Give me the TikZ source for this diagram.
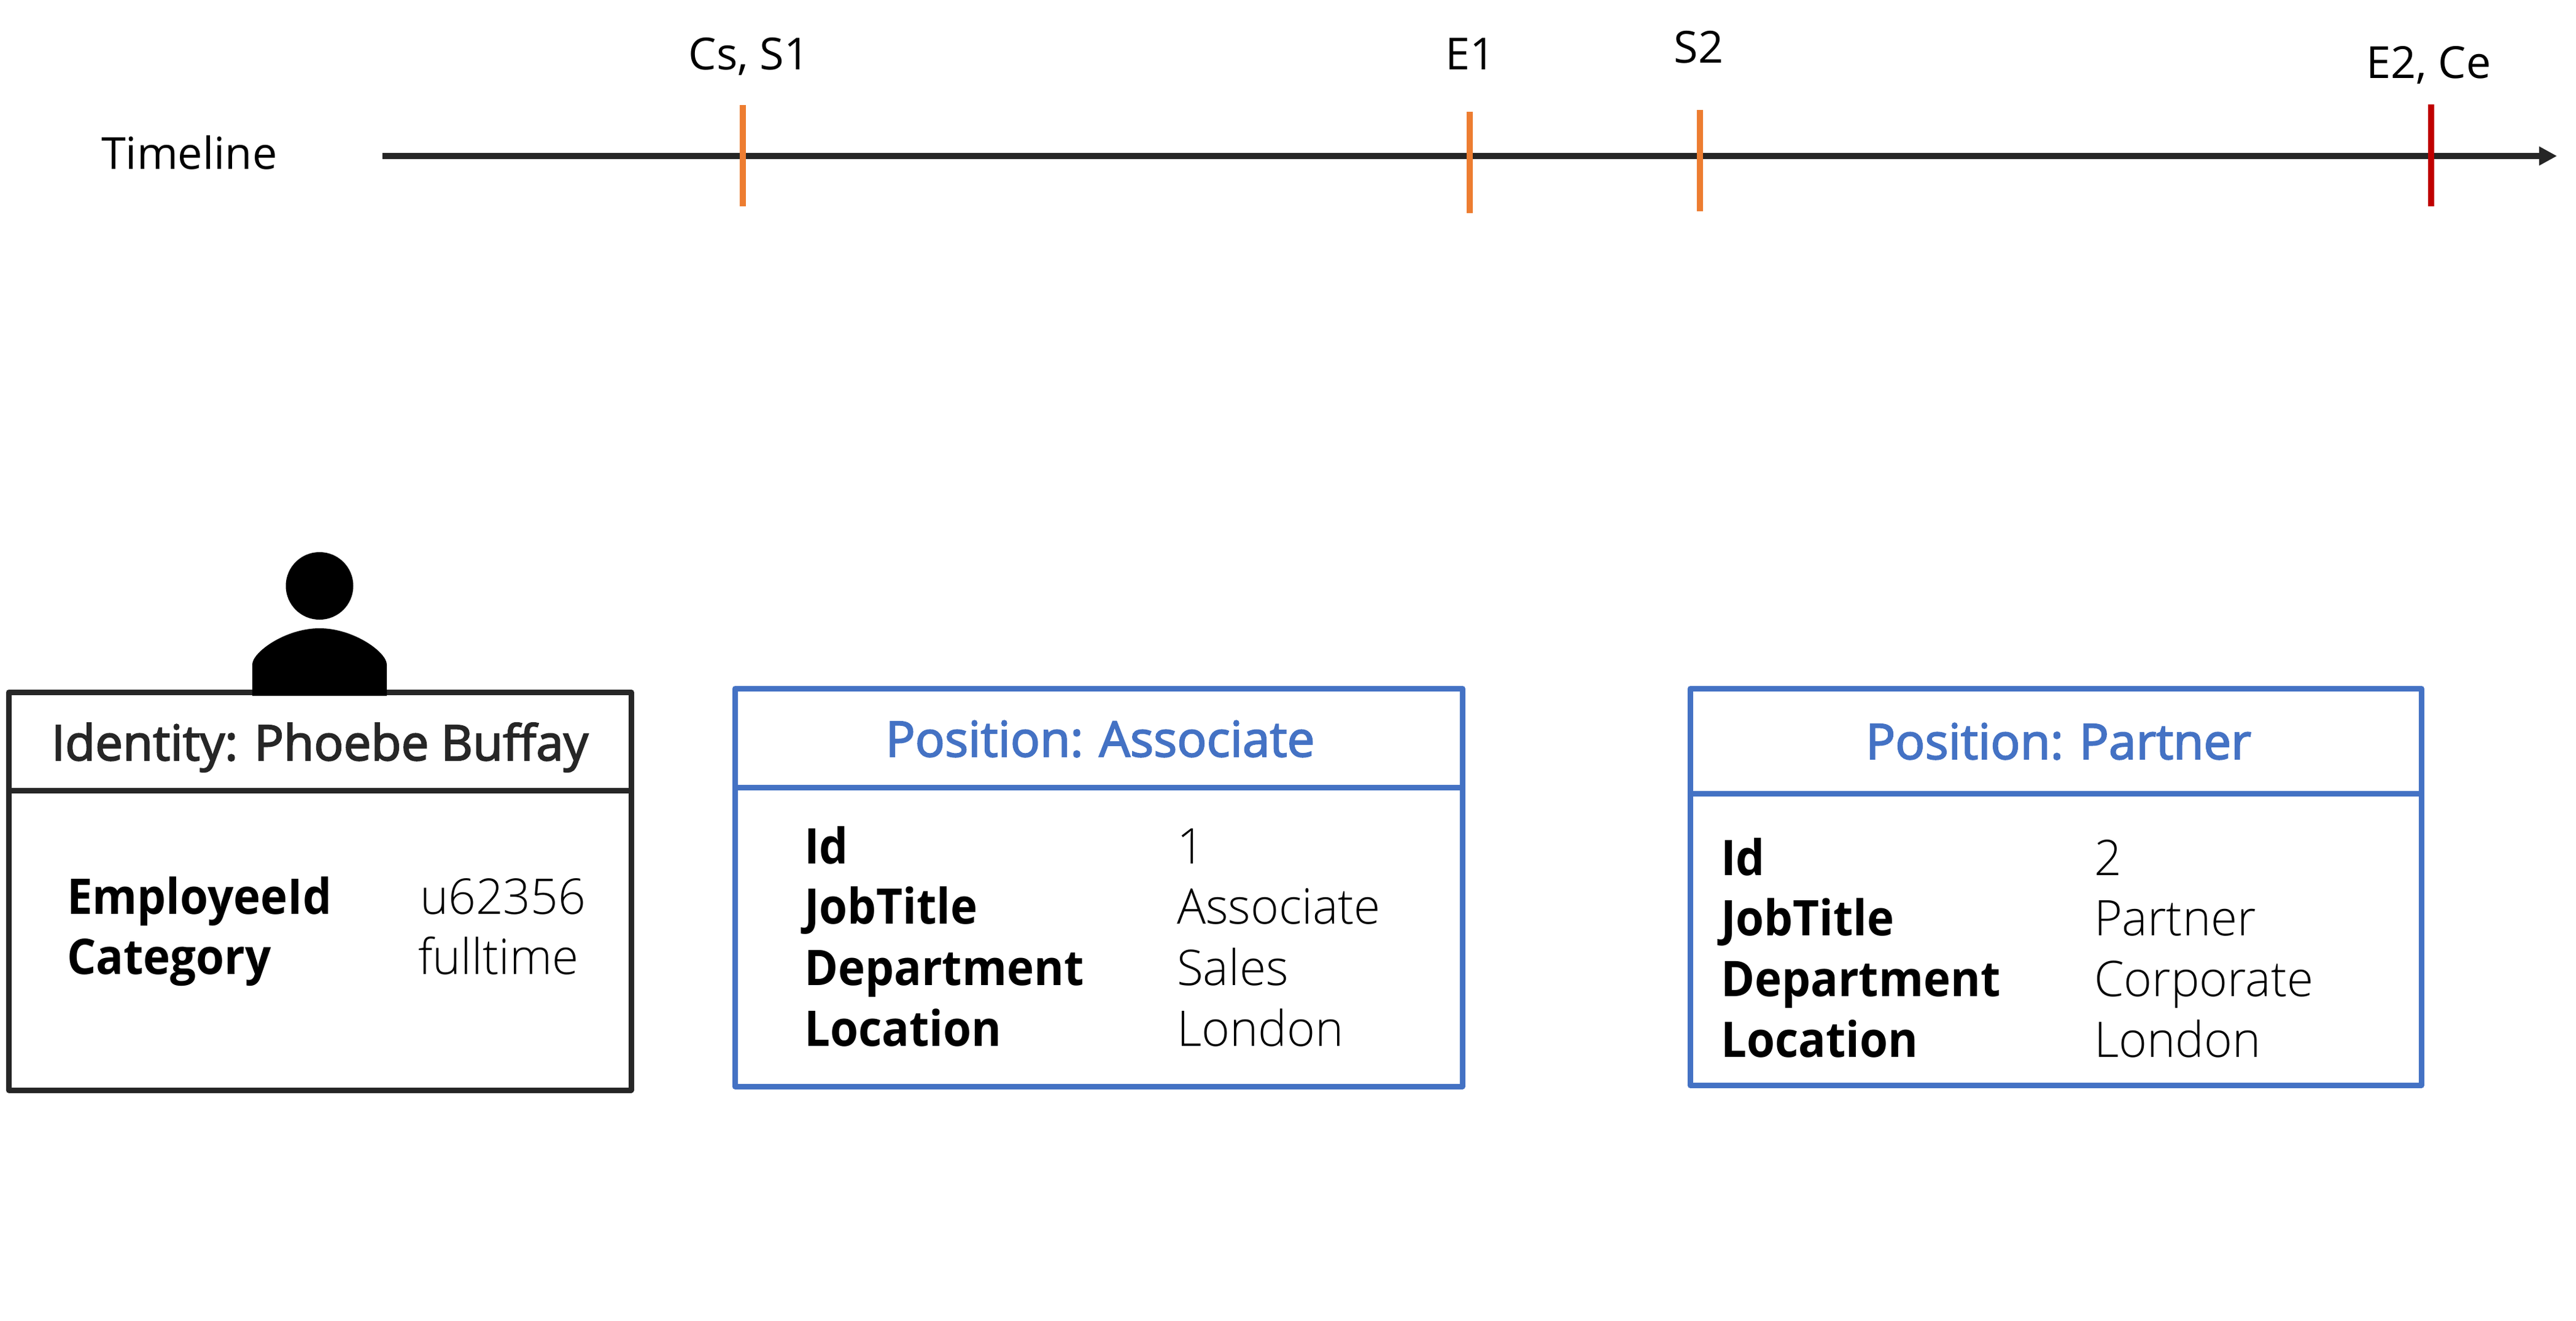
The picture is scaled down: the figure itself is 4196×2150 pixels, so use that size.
\documentclass[tikz,border=0pt]{standalone}
\usepackage{fontspec}
\setmainfont{Open Sans}
\newfontfamily\lightface[FakeStretch=0.98]{Open Sans Light}
\newfontfamily\semiface[FakeBold=2.5,WordSpace=0.75]{Open Sans}
\newfontfamily\semiwide[FakeBold=2.5,WordSpace=0.95]{Open Sans}
\newfontfamily\keyface[FakeStretch=0.93]{Open Sans}
\usetikzlibrary{arrows.meta}
\definecolor{ink}{HTML}{262626}
\definecolor{posblue}{HTML}{4472C4}
\definecolor{tickor}{HTML}{ED7D31}
\definecolor{tickred}{HTML}{C00000}
\tikzset{
  every node/.style={inner sep=0pt,outer sep=0pt},
  toplbl/.style={font=\fontsize{72}{72}\selectfont},
  lbl/.style={anchor=base west,font=\fontsize{80}{80}\lightface},
  key/.style={anchor=base west,font=\fontsize{80}{80}\keyface\bfseries},
  hdr/.style={anchor=base,font=\fontsize{80}{80}\semiface},
  hdrwide/.style={anchor=base,font=\fontsize{80}{80}\semiwide},
  frame/.style={line width=9pt,line join=round},
  tick/.style={line width=10pt}
}
\begin{document}
\begin{tikzpicture}[x=1pt,y=-1pt]
\useasboundingbox (0,0) rectangle (4196,2150);
\fill[white] (0,0) rectangle (4196,2150);
% timeline
\node[toplbl,anchor=base west] (tl) at (165,275) {Timeline};
\coordinate (a0) at (623,254);
\coordinate (a1) at (4165,254);
\draw[ink,line width=10pt,-{Triangle[length=29pt,width=29pt]}] (a0) -- (a1);
\coordinate (t1a) at (1210,171); \coordinate (t1b) at (1210,336);
\coordinate (t2a) at (2394,182); \coordinate (t2b) at (2394,347);
\coordinate (t3a) at (2769,179); \coordinate (t3b) at (2769,344);
\coordinate (t4a) at (3960,170); \coordinate (t4b) at (3960,336);
\draw[tick,tickor] (t1a) -- (t1b);
\draw[tick,tickor] (t2a) -- (t2b);
\draw[tick,tickor] (t3a) -- (t3b);
\draw[tick,tickred] (t4a) -- (t4b);
\node[toplbl,anchor=base] (c1) at (1220,113) {Cs, S1};
\node[toplbl,anchor=base] (c2) at (2395,113) {E1};
\node[toplbl,anchor=base] (c3) at (2767,102) {S2};
\node[toplbl,anchor=base] (c4) at (3956,127) {E2, Ce};
% identity
\draw[frame,ink] (14,1127) rectangle (1028,1775);
\draw[frame,ink] (14,1287) -- (1028,1287);
\node[hdrwide,text=ink] (h1) at (521,1238) {Identity: Phoebe Buffay};
\node[key] (k1) at (109,1488) {EmployeeId};
\node[key] (k2) at (109,1586) {Category};
\node[lbl] (v1) at (684,1488) {u62356};
\node[lbl] (v2) at (681,1586) {fulltime};
% person
\fill[black] (520.5,954) circle [radius=55];
\fill[black] (411,1133) -- (411,1082) .. controls (411,1062) and (465,1023) .. (520.5,1023) .. controls (576,1023) and (630,1062) .. (630,1082) -- (630,1133) -- cycle;
% associate
\draw[frame,posblue] (1197,1121) rectangle (2382,1769);
\draw[frame,posblue] (1197,1282) -- (2382,1282);
\node[hdr,text=posblue] (h2) at (1792,1232) {Position: Associate};
\node[key] (a1k) at (1310,1406) {Id};
\node[key] (a2k) at (1310,1504) {JobTitle};
\node[key] (a3k) at (1310,1604) {Department};
\node[key] (a4k) at (1310,1703) {Location};
\node[lbl] (a1v) at (1917,1406) {1};
\node[lbl] (a2v) at (1917,1504) {Associate};
\node[lbl] (a3v) at (1917,1604) {Sales};
\node[lbl] (a4v) at (1917,1703) {London};
% partner
\draw[frame,posblue] (2753,1121) rectangle (3944,1767);
\draw[frame,posblue] (2753,1292) -- (3944,1292);
\node[hdr,text=posblue] (h3) at (3353,1236) {Position: Partner};
\node[key] (p1k) at (2803,1425) {Id};
\node[key] (p2k) at (2803,1523) {JobTitle};
\node[key] (p3k) at (2803,1622) {Department};
\node[key] (p4k) at (2803,1721) {Location};
\node[lbl] (p1v) at (3411,1425) {2};
\node[lbl] (p2v) at (3411,1523) {Partner};
\node[lbl] (p3v) at (3411,1622) {Corporate};
\node[lbl] (p4v) at (3411,1721) {London};
\end{tikzpicture}
\end{document}
